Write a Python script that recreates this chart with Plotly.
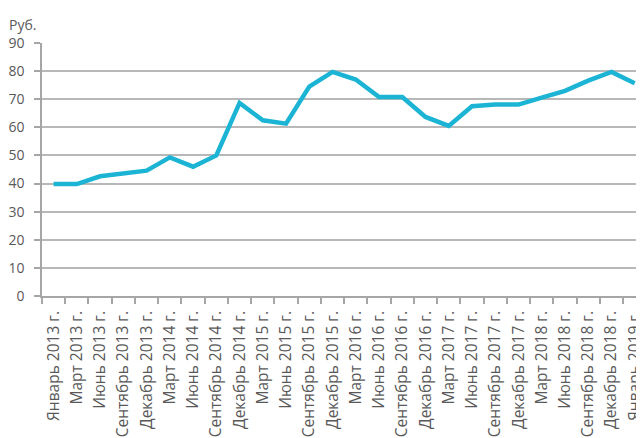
import plotly.graph_objects as go

categories = [
    "Январь 2013 г.", "Март 2013 г.", "Июнь 2013 г.", "Сентябрь 2013 г.", "Декабрь 2013 г.",
    "Март 2014 г.", "Июнь 2014 г.", "Сентябрь 2014 г.", "Декабрь 2014 г.",
    "Март 2015 г.", "Июнь 2015 г.", "Сентябрь 2015 г.", "Декабрь 2015 г.",
    "Март 2016 г.", "Июнь 2016 г.", "Сентябрь 2016 г.", "Декабрь 2016 г.",
    "Март 2017 г.", "Июнь 2017 г.", "Сентябрь 2017 г.", "Декабрь 2017 г.",
    "Март 2018 г.", "Июнь 2018 г.", "Сентябрь 2018 г.", "Декабрь 2018 г.",
    "Январь 2019 г.",
]
values = [
    39.8, 39.8, 42.6, 43.6, 44.6,
    49.3, 46.0, 50.0, 68.7,
    62.5, 61.3, 74.5, 79.7,
    77.0, 70.8, 70.8, 63.7,
    60.5, 67.5, 68.1, 68.1,
    70.6, 73.0, 76.6, 79.7,
    75.7,
]
y_ticks = [0, 10, 20, 30, 40, 50, 60, 70, 80, 90]

text_color = "#595959"
grid_color = "#B8B8B8"
axis_color = "#A6A6A6"
font_family = "Open Sans, DejaVu Sans, sans-serif"

fig = go.Figure()
fig.add_trace(go.Scatter(
    x=categories, y=values, mode="lines",
    line=dict(color="#1CB4D4", width=4.5, shape="linear"),
    hoverinfo="skip",
))

# The page body has an 8px default margin, so the figure is sized and
# placed to land where the reference draws it.
fig.update_layout(
    width=636, height=430,
    margin=dict(l=34, r=0, t=35, b=142),
    paper_bgcolor="white", plot_bgcolor="white",
    showlegend=False,
    font=dict(family=font_family, color=text_color, size=14),
    xaxis=dict(
        type="category",
        range=[-0.5, 25.4],
        tickangle=-90,
        tickson="boundaries",
        ticks="outside", ticklen=6, tickcolor=axis_color, tickwidth=1.5,
        showline=True, linecolor=axis_color, linewidth=1.5,
        showgrid=False,
        tickfont=dict(size=15.5, color=text_color, family=font_family),
        ticklabelstandoff=7,
        automargin=False,
        fixedrange=True,
    ),
    yaxis=dict(
        range=[0, 90],
        tickvals=y_ticks,
        ticks="outside", ticklen=6, tickcolor=axis_color, tickwidth=1.5,
        showline=True, linecolor=axis_color, linewidth=1.5,
        showgrid=True, gridcolor=grid_color, gridwidth=1.8,
        zeroline=False,
        tickfont=dict(size=14, color=text_color, family=font_family),
        ticklabelstandoff=7,
        automargin=False,
        fixedrange=True,
    ),
    annotations=[dict(
        text="Руб.", x=0, y=1, xref="paper", yref="paper",
        xshift=-35, yshift=19, xanchor="left", yanchor="middle",
        showarrow=False, font=dict(size=14, color=text_color, family=font_family),
    )],
)

fig.write_html("out.html", config={"displayModeBar": False})
